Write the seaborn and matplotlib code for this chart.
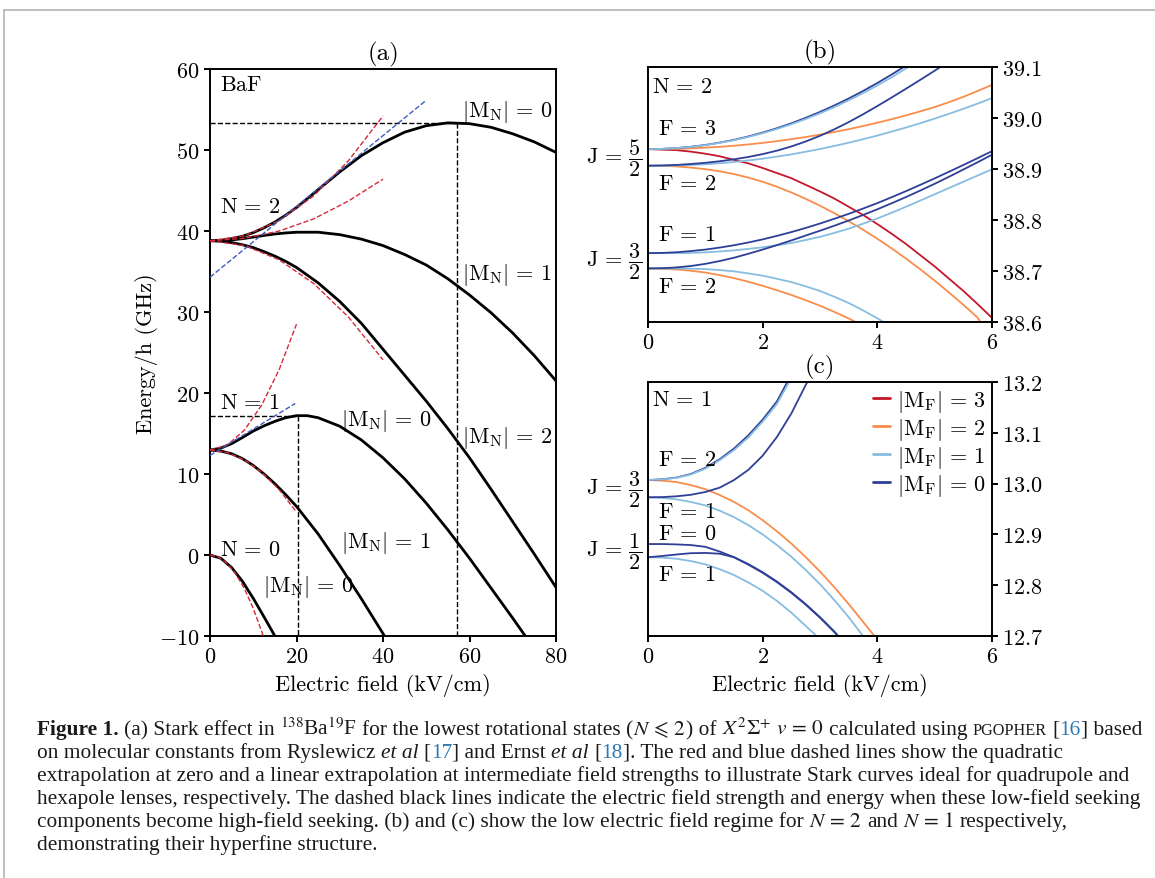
import matplotlib
matplotlib.use("Agg")
import matplotlib.pyplot as plt
import seaborn as sns
from matplotlib.lines import Line2D
import matplotlib.transforms as mtransforms

# ---------------------------------------------------------------- data
# Panel (a): Stark curves of BaF (GHz vs kV/cm)
E_N2 = [0, 2.5, 5, 7.5, 10, 12.5, 15, 17.5, 20, 25, 30, 35, 40, 45, 50, 55, 60, 65, 70, 75, 80]
N2_M0 = [38.8, 38.85, 39.05, 39.35, 39.8, 40.4, 41.1, 41.95, 42.9, 45.1, 47.3, 49.3, 50.9, 52.2,
         53.0, 53.35, 53.25, 52.8, 52.0, 51.0, 49.7]
N2_M1 = [38.8, 38.82, 38.9, 39.05, 39.25, 39.45, 39.63, 39.76, 39.85, 39.85, 39.55, 39.0, 38.2,
         37.1, 35.8, 34.1, 32.1, 29.9, 27.4, 24.6, 21.5]
N2_M2 = [38.8, 38.74, 38.57, 38.3, 37.95, 37.45, 36.9, 36.25, 35.5, 33.6, 31.3, 28.6, 25.4, 22.2,
         19.0, 15.6, 12.0, 8.1, 4.1, 0.1, -4.0]
E_N1M0 = [0, 2.5, 5, 7.5, 10, 12.5, 15, 17.5, 20, 22.5, 25, 30, 35, 40, 45, 50, 55, 60, 65, 70, 75]
N1_M0 = [12.95, 13.2, 13.75, 14.5, 15.3, 15.95, 16.5, 16.95, 17.2, 17.2, 16.95, 15.9, 14.2, 12.0,
         9.4, 6.4, 3.1, -0.4, -4.1, -7.8, -11.6]
E_N1M1 = [0, 2.5, 5, 7.5, 10, 12.5, 15, 17.5, 20, 25, 30, 35, 40, 42.5]
N1_M1 = [12.95, 12.83, 12.5, 11.9, 11.05, 10.0, 8.8, 7.45, 6.0, 2.6, -1.3, -5.4, -9.7, -11.9]
E_N0 = [0, 2.5, 5, 7.5, 10, 12.5, 15, 17.5]
N0_M0 = [0.0, -0.4, -1.55, -3.25, -5.35, -7.65, -10.0, -12.4]

# quadratic extrapolations (red dashed)
E_Q0 = [0, 2, 4, 6, 8, 10, 12.3]
Q_N0 = [0.0, -0.26, -1.05, -2.37, -4.2, -6.58, -9.96]
E_Q1 = [0, 4, 8, 12, 16, 20]
Q_N1M0 = [12.95, 13.57, 15.44, 18.55, 22.9, 28.5]
Q_N1M1 = [12.95, 12.64, 11.73, 10.2, 8.06, 5.3]
E_Q2 = [0, 8, 16, 24, 32, 40]
Q_N2M0 = [38.8, 39.42, 41.27, 44.35, 48.67, 54.2]
Q_N2M1 = [38.8, 39.1, 40.0, 41.5, 43.7, 46.4]
Q_N2M2 = [38.8, 38.21, 36.44, 33.5, 29.38, 24.1]
# linear extrapolations (blue dashed)
E_L2 = [0, 49.9]
L_N2 = [34.3, 56.1]
E_L1 = [0, 19.7]
L_N1 = [12.3, 18.7]
# turning points (black dashed)
TURN_E = [57.0, 20.3]
TURN_Y = [53.3, 17.2]

# Panel (b): N = 2 hyperfine (GHz)
E_B = [0, 0.25, 0.5, 0.75, 1, 1.25, 1.5, 1.75, 2, 2.25, 2.5, 2.75, 3, 3.25, 3.5, 3.75, 4,
       4.25, 4.5, 4.75, 5, 5.25, 5.5, 5.75, 6]
b_J52F3_M3 = [38.939, 38.938, 38.937, 38.934, 38.930, 38.925, 38.918, 38.911, 38.902, 38.892,
              38.882, 38.869, 38.856, 38.842, 38.826, 38.810, 38.792, 38.773, 38.753, 38.731,
              38.709, 38.685, 38.661, 38.635, 38.608]
b_J52F3_M2 = [38.939, 38.9391, 38.9396, 38.9405, 38.9418, 38.9435, 38.9456, 38.9482, 38.9512,
              38.9546, 38.9585, 38.9627, 38.9674, 38.9726, 38.9781, 38.9842, 38.9907, 38.9977,
              39.0051, 39.0131, 39.0215, 39.031, 39.0415, 39.053, 39.065]
b_J52F3_M0_E = [0, 0.25, 0.5, 0.75, 1, 1.25, 1.5, 1.75, 2, 2.25, 2.5, 2.75, 3, 3.25, 3.5, 3.75,
                4, 4.25, 4.46]
b_J52F3_M0 = [38.939, 38.9395, 38.941, 38.9436, 38.9471, 38.9517, 38.9572, 38.9638, 38.9714,
              38.98, 38.9896, 39.0003, 39.0119, 39.0246, 39.0382, 39.0529, 39.0686, 39.0853, 39.1]
b_J52F3_M1_E = [0, 0.25, 0.5, 0.75, 1, 1.25, 1.5, 1.75, 2, 2.25, 2.5, 2.75, 3, 3.25, 3.5, 3.75,
                4, 4.25, 4.54]
b_J52F3_M1 = [38.939, 38.9395, 38.941, 38.9434, 38.9468, 38.9512, 38.9566, 38.9629, 38.9702,
              38.9785, 38.9878, 38.998, 39.0092, 39.0214, 39.0346, 39.0487, 39.0638, 39.0799, 39.1]
b_J52F2_M0_E = [0, 0.25, 0.5, 0.75, 1, 1.25, 1.5, 1.75, 2, 2.25, 2.5, 2.75, 3, 3.25, 3.5, 3.75,
                4, 4.25, 4.5, 4.75, 5, 5.1]
b_J52F2_M0 = [38.9065, 38.9069, 38.908, 38.9098, 38.9121, 38.9152, 38.919, 38.9236, 38.9292,
              38.936, 38.9442, 38.9539, 38.9651, 38.9778, 38.9919, 39.0072, 39.0234, 39.0402,
              39.0574, 39.0749, 39.0927, 39.1]
b_J52F2_M1 = [38.9065, 38.9067, 38.907, 38.9079, 38.9092, 38.9113, 38.9137, 38.9168, 38.9202,
              38.9243, 38.9287, 38.9338, 38.9392, 38.9452, 38.9515, 38.9584, 38.9655, 38.9733,
              38.9813, 38.9899, 38.9988, 39.0082, 39.018, 39.0283, 39.039]
b_J52F2_M2_E = [0, 0.25, 0.5, 0.75, 1, 1.25, 1.5, 1.75, 2, 2.25, 2.5, 2.75, 3, 3.25, 3.5, 3.75,
                4, 4.25, 4.5, 4.75, 5, 5.25, 5.5, 5.75, 5.8]
b_J52F2_M2 = [38.9065, 38.9062, 38.905, 38.9028, 38.8997, 38.8955, 38.8900, 38.8832, 38.875,
              38.8652, 38.8540, 38.8415, 38.828, 38.8134, 38.7977, 38.781, 38.7632, 38.7443,
              38.7243, 38.7032, 38.6811, 38.6579, 38.6337, 38.6085, 38.6]
b_J32F1_M0 = [38.735, 38.7355, 38.7368, 38.7391, 38.742, 38.7459, 38.7505, 38.7559, 38.762,
              38.7689, 38.7763, 38.7844, 38.7931, 38.8024, 38.8121, 38.8224, 38.8331, 38.8447,
              38.8566, 38.869, 38.8816, 38.8946, 38.9078, 38.9213, 38.935]
b_J32F1_M1 = [38.735, 38.735, 38.735, 38.7356, 38.7365, 38.7383, 38.7405, 38.7434, 38.7465,
              38.7505, 38.755, 38.7607, 38.767, 38.7747, 38.783, 38.7927, 38.803, 38.8142,
              38.826, 38.8381, 38.8505, 38.8627, 38.875, 38.8872, 38.8995]
b_J32F2_M0 = [38.705, 38.7055, 38.707, 38.7098, 38.714, 38.7195, 38.726, 38.7338, 38.742,
              38.7508, 38.76, 38.7695, 38.779, 38.7888, 38.799, 38.8098, 38.821, 38.8328,
              38.845, 38.8578, 38.871, 38.8848, 38.899, 38.9133, 38.928]
b_J32F2_M1_E = [0, 0.25, 0.5, 0.75, 1, 1.25, 1.5, 1.75, 2, 2.25, 2.5, 2.75, 3, 3.25, 3.5, 3.75,
                4, 4.11]
b_J32F2_M1 = [38.705, 38.705, 38.705, 38.7045, 38.7038, 38.7018, 38.6993, 38.6953, 38.6908,
              38.6848, 38.6783, 38.67, 38.6608, 38.6495, 38.6373, 38.6228, 38.6073, 38.6]
b_J32F2_M2_E = [0, 0.25, 0.5, 0.75, 1, 1.25, 1.5, 1.75, 2, 2.25, 2.5, 2.75, 3, 3.25, 3.5, 3.62]
b_J32F2_M2 = [38.705, 38.7045, 38.703, 38.7005, 38.697, 38.6919, 38.686, 38.679, 38.671,
              38.6622, 38.653, 38.6428, 38.632, 38.6198, 38.607, 38.6]

# Panel (c): N = 1 hyperfine (GHz)
c_J32F2_M0_E = [0, 0.25, 0.5, 0.75, 1, 1.25, 1.5, 1.75, 2, 2.25, 2.43]
c_J32F2_M0 = [13.007, 13.0085, 13.012, 13.019, 13.031, 13.048, 13.069, 13.095, 13.126, 13.162, 13.2]
c_J32F2_M1_E = [0, 0.25, 0.5, 0.75, 1, 1.25, 1.5, 1.75, 2, 2.25, 2.46]
c_J32F2_M1 = [13.007, 13.0083, 13.0115, 13.018, 13.0295, 13.046, 13.066, 13.091, 13.122, 13.157,
              13.2]
c_J32F1_M0_E = [0, 0.25, 0.5, 0.75, 1, 1.25, 1.5, 1.75, 2, 2.25, 2.5, 2.75, 2.78]
c_J32F1_M0 = [12.973, 12.9735, 12.975, 12.978, 12.9835, 12.992, 13.007, 13.027, 13.055, 13.092,
              13.138, 13.194, 13.2]
c_J32F2_M2_E = [0, 0.25, 0.5, 0.75, 1, 1.25, 1.5, 1.75, 2, 2.25, 2.5, 2.75, 3, 3.25, 3.5, 3.75,
                3.95]
c_J32F2_M2 = [13.007, 13.0058, 13.003, 12.997, 12.989, 12.9775, 12.964, 12.9475, 12.928, 12.906,
              12.882, 12.8555, 12.827, 12.796, 12.763, 12.728, 12.7]
c_J32F1_M1_E = [0, 0.25, 0.5, 0.75, 1, 1.25, 1.5, 1.75, 2, 2.25, 2.5, 2.75, 3, 3.25, 3.5, 3.75]
c_J32F1_M1 = [12.973, 12.9718, 12.969, 12.9638, 12.957, 12.9467, 12.934, 12.9182, 12.9, 12.879,
              12.856, 12.8302, 12.802, 12.7707, 12.737, 12.7]
c_J12F0_M0_E = [0, 0.25, 0.5, 0.75, 1, 1.25, 1.5, 1.75, 2, 2.25, 2.5, 2.75, 3, 3.25, 3.32]
c_J12F0_M0 = [12.881, 12.881, 12.8803, 12.879, 12.8755, 12.8663, 12.8551, 12.8415, 12.8255,
              12.807, 12.7861, 12.7628, 12.737, 12.7088, 12.7]
c_J12F1_M0_E = [0, 0.25, 0.5, 0.75, 1, 1.25, 1.5, 1.75, 2, 2.25, 2.5, 2.75, 3, 3.25, 3.31]
c_J12F1_M0 = [12.855, 12.8575, 12.8605, 12.863, 12.8635, 12.862, 12.855, 12.8405, 12.8245,
              12.806, 12.785, 12.7618, 12.736, 12.7078, 12.7]
c_J12F1_M1_E = [0, 0.25, 0.5, 0.75, 1, 1.25, 1.5, 1.75, 2, 2.25, 2.5, 2.75, 2.94]
c_J12F1_M1 = [12.855, 12.8543, 12.852, 12.8475, 12.841, 12.8315, 12.82, 12.8055, 12.789, 12.769,
              12.746, 12.72, 12.7]

A_XTICKS = [0, 20, 40, 60, 80]
A_YTICKS = [-10, 0, 10, 20, 30, 40, 50, 60]
BC_XTICKS = [0, 2, 4, 6]
B_YTICKS = [38.6, 38.7, 38.8, 38.9, 39.0, 39.1]
B_YLABELS = ["38.6", "38.7", "38.8", "38.9", "39.0", "39.1"]
C_YTICKS = [12.7, 12.8, 12.9, 13.0, 13.1, 13.2]
C_YLABELS = ["12.7", "12.8", "12.9", "13.0", "13.1", "13.2"]
LEGEND_LABELS = [r"$|\mathrm{M_F}|\,=\,3$", r"$|\mathrm{M_F}|\,=\,2$",
                 r"$|\mathrm{M_F}|\,=\,1$", r"$|\mathrm{M_F}|\,=\,0$"]

# ---------------------------------------------------------------- style
sns.set_theme(style="ticks")
FS = 16
plt.rcParams.update({
    "font.family": ["cmr10", "DejaVu Serif"],
    "mathtext.fontset": "cm",
    "axes.formatter.use_mathtext": True,
    "axes.linewidth": 1.4,
    "axes.edgecolor": "black",
    "axes.labelcolor": "black",
    "text.color": "black",
    "xtick.major.width": 1.4, "ytick.major.width": 1.4,
    "xtick.major.size": 4.0, "ytick.major.size": 4.0,
    "xtick.direction": "out", "ytick.direction": "out",
    "xtick.color": "black", "ytick.color": "black",
    "xtick.labelsize": FS, "ytick.labelsize": FS,
    "legend.fontsize": FS, "axes.titlesize": 18, "axes.labelsize": FS,
    "font.size": FS,
})

RED, ORANGE, LBLUE, DBLUE = "#c4172c", "#f98d4b", "#86bde0", "#2e3f97"
QRED, QBLUE = "#d42a3a", "#3d5cbd"

W, H = 1155, 879
fig = plt.figure(figsize=(W / 100, H / 100), dpi=100)
fig.patch.set_facecolor("white")


def px_axes(l, t, r, b):
    return fig.add_axes([l / W, 1 - b / H, (r - l) / W, (b - t) / H])


ax_a = px_axes(210, 70, 556, 637)
ax_b = px_axes(648, 68, 992, 323)
ax_c = px_axes(648, 383, 992, 637)


def line(ax, x, y, color, lw, ls="-", z=2):
    sns.lineplot(x=x, y=y, ax=ax, color=color, linewidth=lw, linestyle=ls,
                 sort=False, estimator=None, legend=False, zorder=z)


def eq(lhs, rhs):
    return r"$" + lhs + r"\,=\," + rhs + r"$"


# ---------------------------------------------------------------- panel (a)
for e, y in zip(TURN_E, TURN_Y):
    line(ax_a, [0, e], [y, y], "black", 1.0, "--", 1)
    line(ax_a, [e, e], [y, -10], "black", 1.0, "--", 1)

for x, y in [(E_N2, N2_M0), (E_N2, N2_M1), (E_N2, N2_M2), (E_N1M0, N1_M0),
             (E_N1M1, N1_M1), (E_N0, N0_M0)]:
    line(ax_a, x, y, "black", 2.0, "-", 2)

for x, y in [(E_Q0, Q_N0), (E_Q1, Q_N1M0), (E_Q1, Q_N1M1), (E_Q2, Q_N2M0),
             (E_Q2, Q_N2M1), (E_Q2, Q_N2M2)]:
    line(ax_a, x, y, QRED, 1.0, "--", 3)
for x, y in [(E_L2, L_N2), (E_L1, L_N1)]:
    line(ax_a, x, y, QBLUE, 1.0, "--", 3)

ax_a.set_xlim(0, 80)
ax_a.set_ylim(-10, 60)
ax_a.set_xticks(A_XTICKS)
ax_a.set_xticklabels([f"${t}$" for t in A_XTICKS])
ax_a.set_yticks(A_YTICKS)
ax_a.set_yticklabels([f"${t}$" for t in A_YTICKS])
ax_a.set_xlabel("Electric field (kV/cm)", fontsize=FS)
ax_a.set_ylabel("Energy/h (GHz)", fontsize=FS)
ax_a.yaxis.set_label_coords(-0.15, 0.5)
ax_a.xaxis.set_label_coords(0.5, -0.065)
ax_a.set_title("(a)", pad=7)

MN = r"|\mathrm{M_N}|"
txt_a = [
    (2.2, 58.1, r"$\mathrm{BaF}$"),
    (2.2, 43.0, eq(r"\mathrm{N}", "2")),
    (58.2, 54.8, eq(MN, "0")),
    (58.2, 34.7, eq(MN, "1")),
    (2.2, 18.9, eq(r"\mathrm{N}", "1")),
    (30.4, 16.7, eq(MN, "0")),
    (58.2, 14.6, eq(MN, "2")),
    (30.4, 1.6, eq(MN, "1")),
    (2.2, 0.74, eq(r"\mathrm{N}", "0")),
    (12.3, -3.8, eq(MN, "0")),
]
for x, y, s in txt_a:
    ax_a.text(x, y, s, fontsize=FS, ha="left", va="center", zorder=5)

# ---------------------------------------------------------------- panel (b)
curves_b = [
    (b_J52F3_M3, E_B, RED), (b_J52F3_M2, E_B, ORANGE), (b_J52F2_M2, b_J52F2_M2_E, ORANGE),
    (b_J32F2_M2, b_J32F2_M2_E, ORANGE),
    (b_J52F2_M1, E_B, LBLUE), (b_J32F1_M1, E_B, LBLUE), (b_J32F2_M1, b_J32F2_M1_E, LBLUE),
    (b_J52F3_M0, b_J52F3_M0_E, DBLUE), (b_J52F2_M0, b_J52F2_M0_E, DBLUE),
    (b_J32F1_M0, E_B, DBLUE), (b_J32F2_M0, E_B, DBLUE),
    (b_J52F3_M1, b_J52F3_M1_E, LBLUE),
]
for y, x, c in curves_b:
    line(ax_b, x, y, c, 1.3)

curves_c = [
    (c_J32F2_M2, c_J32F2_M2_E, ORANGE),
    (c_J32F1_M1, c_J32F1_M1_E, LBLUE), (c_J12F1_M1, c_J12F1_M1_E, LBLUE),
    (c_J32F1_M0, c_J32F1_M0_E, DBLUE), (c_J12F0_M0, c_J12F0_M0_E, DBLUE),
    (c_J12F1_M0, c_J12F1_M0_E, DBLUE),
    (c_J32F2_M0, c_J32F2_M0_E, DBLUE), (c_J32F2_M1, c_J32F2_M1_E, LBLUE),
]
for y, x, c in curves_c:
    line(ax_c, x, y, c, 1.3)

for ax, yt, yl in [(ax_b, B_YTICKS, B_YLABELS), (ax_c, C_YTICKS, C_YLABELS)]:
    ax.set_xlim(0, 6)
    ax.set_ylim(yt[0], yt[-1])
    ax.set_xticks(BC_XTICKS)
    ax.set_xticklabels([f"${t}$" for t in BC_XTICKS])
    ax.yaxis.tick_right()
    ax.set_yticks(yt)
    ax.set_yticklabels([f"${s}$" for s in yl])
    ax.tick_params(axis="y", which="both", left=False, right=True)
    ax.set_ylabel("")
    ax.set_xlabel("")

ax_b.set_title("(b)", pad=7)
ax_c.set_title("(c)", pad=7)
ax_c.set_xlabel("Electric field (kV/cm)", fontsize=FS)
ax_c.xaxis.set_label_coords(0.5, -0.145)

tb = mtransforms.blended_transform_factory(ax_b.transAxes, ax_b.transData)
tc = mtransforms.blended_transform_factory(ax_c.transAxes, ax_c.transData)
for yv, s, xv in [(39.062, eq(r"\mathrm{N}", "2"), 0.012), (38.98, eq(r"\mathrm{F}", "3"), 0.03),
                  (38.873, eq(r"\mathrm{F}", "2"), 0.03), (38.772, eq(r"\mathrm{F}", "1"), 0.03),
                  (38.670, eq(r"\mathrm{F}", "2"), 0.03)]:
    ax_b.text(xv, yv, s, fontsize=FS, transform=tb, va="center")
for yv, s in [(38.923, eq(r"\mathrm{J}", r"\dfrac{5}{2}")), (38.72, eq(r"\mathrm{J}", r"\dfrac{3}{2}"))]:
    ax_b.text(-0.018, yv, s, fontsize=FS, transform=tb, ha="right", va="center", clip_on=False)

for yv, s, xv in [(13.166, eq(r"\mathrm{N}", "1"), 0.012), (13.047, eq(r"\mathrm{F}", "2"), 0.03),
                  (12.945, eq(r"\mathrm{F}", "1"), 0.03), (12.903, eq(r"\mathrm{F}", "0"), 0.03),
                  (12.822, eq(r"\mathrm{F}", "1"), 0.03)]:
    ax_c.text(xv, yv, s, fontsize=FS, transform=tc, va="center")
for yv, s in [(12.99, eq(r"\mathrm{J}", r"\dfrac{3}{2}")), (12.868, eq(r"\mathrm{J}", r"\dfrac{1}{2}"))]:
    ax_c.text(-0.018, yv, s, fontsize=FS, transform=tc, ha="right", va="center", clip_on=False)

handles = [Line2D([], [], color=c, lw=2.0) for c in (RED, ORANGE, LBLUE, DBLUE)]
ax_c.legend(handles, LEGEND_LABELS, loc="upper right", frameon=False, fontsize=FS,
            handlelength=0.75, handletextpad=0.35, labelspacing=0.1,
            borderaxespad=0.15, borderpad=0.1)

# ---------------------------------------------------------------- border
fig.add_artist(Line2D([4 / W, 1.0], [1 - 11 / H, 1 - 11 / H], color="#b4b4b4", lw=1.2,
                      transform=fig.transFigure))
fig.add_artist(Line2D([4 / W, 4 / W], [0, 1 - 11 / H], color="#b4b4b4", lw=1.2,
                      transform=fig.transFigure))

# ---------------------------------------------------------------- caption
CITE = "#2a79b6"
cap_lines = [
    [("Figure 1.", "b"), (" (a) Stark effect in ", "n"), (r"$^{138}$Ba$^{19}$F", "n"),
     (" for the lowest rotational states (", "n"), (r"$N\,\leqslant\,2$", "n"), (") of ", "n"),
     (r"$X^{2}\Sigma^{+}\ v\,=\,0$", "n"), (" calculated using ", "n"), ("PGOPHER", "sc"),
     (" [", "n"), ("16", "c"), ("] based", "n")],
    [("on molecular constants from Ryslewicz ", "n"), ("et al", "i"), (" [", "n"), ("17", "c"),
     ("] and Ernst ", "n"), ("et al", "i"), (" [", "n"), ("18", "c"),
     ("]. The red and blue dashed lines show the quadratic", "n")],
    [("extrapolation at zero and a linear extrapolation at intermediate field strengths to "
      "illustrate Stark curves ideal for quadrupole and", "n")],
    [("hexapole lenses, respectively. The dashed black lines indicate the electric field "
      "strength and energy when these low-field seeking", "n")],
    [("components become high-field seeking. (b) and (c) show the low electric field regime "
      "for ", "n"), (r"$N\,=\,2$", "n"), (" and ", "n"), (r"$N\,=\,1$", "n"),
     (" respectively,", "n")],
    [("demonstrating their hyperfine structure.", "n")],
]

renderer = fig.canvas.get_renderer()


def make_text(x, y, s, sty, size):
    kw = dict(fontsize=size, family=["Liberation Serif", "DejaVu Serif"],
              math_fontfamily="stix", va="baseline", ha="left", color="#1a1a1a")
    if sty == "b":
        kw["fontweight"] = "bold"
    elif sty == "i":
        kw["fontstyle"] = "italic"
    elif sty == "c":
        kw["color"] = CITE
    elif sty == "sc":
        kw["fontsize"] = size * 0.76
    return fig.text(x / W, 1 - y / H, s, **kw)


def width_of(s, sty, size):
    t = make_text(0, 0, s, sty, size)
    w = t.get_window_extent(renderer).width
    t.remove()
    return w


def line_width(segs, size):
    sp = width_of("a a", "n", size) - width_of("aa", "n", size)
    tot = 0
    for s, sty in segs:
        if s.startswith(" "):
            tot += sp
        tot += width_of(s.strip(), sty, size)
        if s.endswith(" "):
            tot += sp
    return tot


ref = line_width(cap_lines[2], 10)
CAP_FS = 10 * (1130 - 37) / ref
space = width_of("a a", "n", CAP_FS) - width_of("aa", "n", CAP_FS)

y0 = 735
for i, segs in enumerate(cap_lines):
    x = 37
    y = y0 + 23 * i
    for s, sty in segs:
        if s.startswith(" "):
            x += space
        t = make_text(x, y, s.strip(), sty, CAP_FS)
        x += t.get_window_extent(renderer).width
        if s.endswith(" "):
            x += space

fig.savefig("out.png", dpi=100, facecolor="white")
